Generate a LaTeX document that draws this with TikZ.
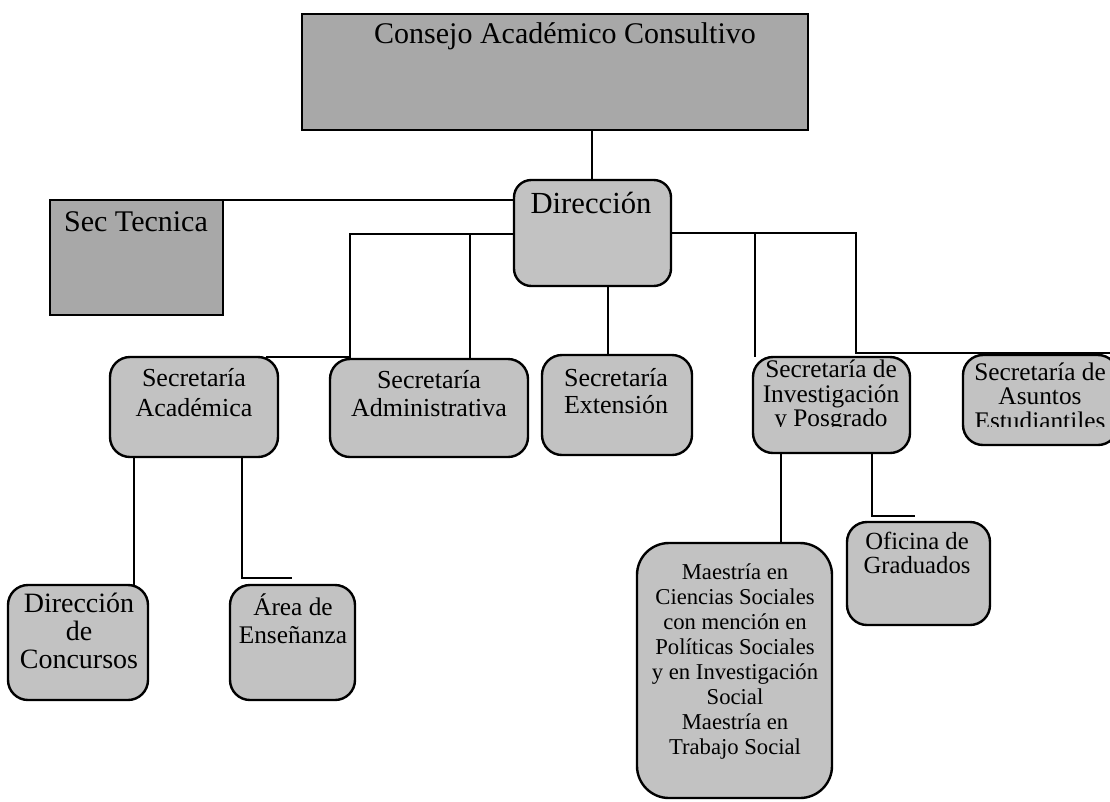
\documentclass[tikz,border=0pt]{standalone}
\usepackage{fontspec}
\setmainfont{Liberation Serif}
\definecolor{boxdark}{gray}{0.66}
\definecolor{boxlight}{gray}{0.76}
\newcommand\fsz[2]{\fontsize{#1pt}{#2pt}\selectfont}
\newcommand\mkbox[6]{%
  \pgfmathsetmacro\rsBX{(#3+#5)/2}%
  \pgfmathsetmacro\rsBY{(#4+#6)/2}%
  \pgfmathsetmacro\rsBW{(#5-#3)*0.75}%
  \pgfmathsetmacro\rsBH{(#6-#4)*0.75}%
  \node[#2, minimum width=\rsBW pt, minimum height=\rsBH pt, inner sep=0pt, outer sep=0pt] (#1) at (\rsBX,\rsBY) {};}
\tikzset{
  conn/.style={line width=1.6pt},
  sqbox/.style={draw, line width=1.8pt, fill=boxdark, rectangle},
  rbox/.style={draw, line width=1.8pt, fill=boxlight, rectangle, rounded corners=#1},
  rbox/.default=15pt,
  txt/.style={inner sep=0pt, align=center, text=black},
}
\begin{document}
\begin{tikzpicture}[x=0.75pt,y=-0.75pt]
\useasboundingbox (0,0) rectangle (1110,801);
% junction coordinates
\coordinate (jTop) at (592,0);
\coordinate (jL) at (350,234);
\coordinate (jA) at (470,234);
\coordinate (jE) at (608,0);
\coordinate (jR1) at (755,233);
\coordinate (jR2) at (856,233);
\coordinate (jRend) at (1110,353);
\coordinate (jC) at (134,0);
\coordinate (jAr) at (242,578);
\coordinate (jArEnd) at (292,578);
\coordinate (jM) at (781,0);
\coordinate (jO) at (872,516);
\coordinate (jOEnd) at (915,516);

% boxes
\mkbox{cons}{sqbox}{302}{14}{808}{130}
\mkbox{sect}{sqbox}{50}{200}{223}{315}
\mkbox{dir}{rbox=13pt}{514}{180}{671}{286}
\mkbox{seca}{rbox}{110}{357}{278}{457}
\mkbox{sadm}{rbox}{330}{359}{528}{457}
\mkbox{sext}{rbox}{542}{355}{692}{455}
\mkbox{sinv}{rbox}{753}{357}{910}{453}
\mkbox{sast}{rbox}{963}{355}{1118}{445}
\mkbox{conc}{rbox}{8}{585}{148}{700}
\mkbox{area}{rbox}{230}{585}{355}{700}
\mkbox{maes}{rbox=24pt}{637}{543}{832}{798}
\mkbox{ofic}{rbox}{847}{522}{990}{625}

% connectors
\draw[conn] (cons.south -| jTop) -- (dir.north -| jTop);
\draw[conn] (sect.north east) -- (dir.west |- sect.north);
\draw[conn] (dir.west |- jL) -- (jL) -- (jL |- seca.north) -- ([xshift=-9pt]seca.north east);
\draw[conn] (jA) -- (jA |- sadm.north);
\draw[conn] (dir.south -| jE) -- (sext.north -| jE);
\draw[conn] (dir.east |- jR2) -- (jR2) -- (jR2 |- jRend) -- (jRend);
\draw[conn] (jR1) -- (jR1 |- sinv.north);
\draw[conn] (seca.south -| jC) -- (conc.north -| jC);
\draw[conn] (seca.south -| jAr) -- (jAr) -- (jArEnd);
\draw[conn] (sinv.south -| jM) -- (maes.north -| jM);
\draw[conn] (sinv.south -| jO) -- (jO) -- (jOEnd);

% texts
\node[txt, font=\fsz{22.5}{26}] (tcons) at (565,36) {Consejo Académico Consultivo};
\node[txt, font=\fsz{22.5}{26}] (tsect) at (136,222) {Sec Tecnica};
\node[txt, font=\fsz{23}{26}] (tdir) at (591,203) {Dirección};
\node[txt, font=\fsz{19.5}{22.5}] (tseca) at (194,393) {Secretaría\\Académica};
\node[txt, font=\fsz{19.5}{21}] (tsadm) at (429,394) {Secretaría\\Administrativa};
\node[txt, font=\fsz{19.5}{20}] (tsext) at (616,391) {Secretaría\\Extensión};
\begin{scope}
  \clip (745,350) rectangle (915,426);
  \node[txt, font=\fsz{19}{18.5}] (tsinv) at (831,396) {Secretaría de\\Investigación\\y Posgrado};
\end{scope}
\begin{scope}
  \clip (955,350) rectangle (1110,426);
  \node[txt, font=\fsz{19}{18.5}] (tsast) at (1040,396) {Secretaría de\\Asuntos\\Estudiantiles};
\end{scope}
\node[txt, font=\fsz{21}{21}] (tconc) at (79,631) {Dirección\\de\\Concursos};
\node[txt, font=\fsz{19}{21}] (tarea) at (293,619) {Área de\\Enseñanza};
\node[txt, font=\fsz{17}{18.75}] (tmaes) at (735,662) {Maestría en\\Ciencias Sociales\\con mención en\\Políticas Sociales\\y en Investigación\\Social\\Maestría en\\Trabajo Social};
\node[txt, font=\fsz{18.5}{18}] (tofic) at (917,553) {Oficina de\\Graduados};
\end{tikzpicture}
\end{document}
